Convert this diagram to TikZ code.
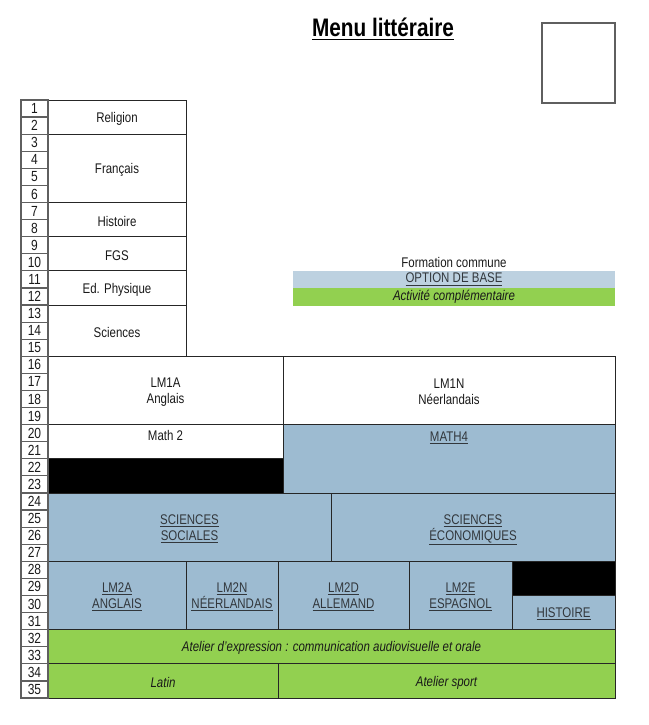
\documentclass[tikz,border=0pt]{standalone}
\usepackage{fontspec}
\setmainfont[FakeStretch=0.82]{Liberation Sans}
\usepackage{xcolor}
\usepackage{tikz}
\usetikzlibrary{positioning}

\definecolor{optblue}{RGB}{157,187,209}
\definecolor{legblue}{RGB}{189,209,224}
\definecolor{actgreen}{RGB}{146,208,80}
\definecolor{rulegray}{RGB}{95,95,95}
\definecolor{txtgray}{RGB}{25,25,25}
\definecolor{opttxt}{RGB}{50,55,60}

\tikzset{
  numcell/.style={draw=rulegray, line width=0.9pt, minimum width=20.25pt, minimum height=12.81pt, inner sep=0pt, text=txtgray, font=\fontsize{11}{12}\selectfont},
  cell/.style={draw=black!85, line width=0.6pt},
  txt/.style={inner sep=0.75pt, align=center, yshift=-1.1pt, text=txtgray, font=\fontsize{10.5}{12}\selectfont},
  opt/.style={txt, text=opttxt},
  act/.style={txt, font=\fontsize{10.5}{12}\selectfont\itshape},
  legbox/.style={inner sep=0pt, minimum width=241.5pt, minimum height=12.81pt, font=\fontsize{10.5}{12}\selectfont},
}

\begin{document}
\begin{tikzpicture}[x=0.75pt,y=0.75pt,yscale=-1,xscale=1]
\useasboundingbox (0,0) rectangle (649,725);

% Title and photo box
\node[text=black, font=\fontsize{19}{22}\selectfont\bfseries] (titre) at (383,29) {\underline{Menu littéraire}};
\node[draw=rulegray, line width=0.9pt, minimum width=54.75pt, minimum height=60pt] (photo) at (578.5,63) {};

% Legend
\node[legbox, fill=legblue, text=opttxt] (optbase) at (454,279.4) {\underline{OPTION DE BASE}};
\node[legbox, fill=actgreen, text=txtgray, font=\fontsize{10.5}{12}\selectfont\itshape, below=0pt of optbase] (activite) {Activité complémentaire};
\node[txt, yshift=1.1pt, above=1pt of optbase] (formation) {Formation commune};

% Formation commune
\draw[cell] (48,100) rectangle (186,134.17);
\node[txt] (religion) at (117,117.09) {Religion};
\draw[cell] (48,134.17) rectangle (186,202.51);
\node[txt] (francais) at (117,168.34) {Français};
\draw[cell] (48,202.51) rectangle (186,236.69);
\node[txt] (histoire) at (117,219.6) {Histoire};
\draw[cell] (48,236.69) rectangle (186,270.86);
\node[txt] (fgs) at (117,253.77) {FGS};
\draw[cell] (48,270.86) rectangle (186,305.03);
\node[txt] (edphys) at (117,287.94) {Ed. Physique};
\draw[cell] (48,305.03) rectangle (186,356.29);
\node[txt] (sciences) at (117,330.66) {Sciences};

% Langues modernes 1
\draw[cell] (48,356.29) rectangle (283,424.63);
\node[txt] (lmia) at (165.5,390.46) {LM1A\\Anglais};
\draw[cell] (283,356.29) rectangle (615,424.63);
\node[txt] (lmin) at (449,390.46) {LM1N\\Néerlandais};

% Math
\draw[cell] (48,424.63) rectangle (283,458.8);
\node[txt] (mathii) at (165.5,433.6) {Math 2};
\draw[cell, fill=black] (48,458.8) rectangle (283,492.97);
\draw[cell, fill=optblue] (283,424.63) rectangle (615,492.97);
\node[opt] (mathiv) at (449,436.5) {\underline{MATH4}};

% Sciences
\draw[cell, fill=optblue] (48,492.97) rectangle (331,561.31);
\node[opt] (scsoc) at (189.5,527.14) {\underline{SCIENCES}\\\underline{SOCIALES}};
\draw[cell, fill=optblue] (331,492.97) rectangle (615,561.31);
\node[opt] (sceco) at (473,528.5) {\underline{SCIENCES}\\\underline{ÉCONOMIQUES}};

% Langues modernes 2
\draw[cell, fill=optblue] (48,561.31) rectangle (186,629.66);
\node[opt] (lmiia) at (117,595.49) {\underline{LM2A}\\\underline{ANGLAIS}};
\draw[cell, fill=optblue] (186,561.31) rectangle (278,629.66);
\node[opt] (lmiin) at (232,595.49) {\underline{LM2N}\\\underline{NÉERLANDAIS}};
\draw[cell, fill=optblue] (278,561.31) rectangle (409,629.66);
\node[opt] (lmiid) at (343.5,595.49) {\underline{LM2D}\\\underline{ALLEMAND}};
\draw[cell, fill=optblue] (409,561.31) rectangle (512,629.66);
\node[opt] (lmiie) at (460.5,595.49) {\underline{LM2E}\\\underline{ESPAGNOL}};
\draw[cell, fill=black] (512,561.31) rectangle (615,595.49);
\draw[cell, fill=optblue] (512,595.49) rectangle (615,629.66);
\node[opt] (histopt) at (563.5,612.57) {\underline{HISTOIRE}};

% Activites complementaires
\draw[cell, fill=actgreen] (48,629.66) rectangle (615,663.83);
\node[act] (atelier) at (331.5,646.74) {Atelier d'expression : communication audiovisuelle et orale};
\draw[cell, fill=actgreen] (48,663.83) rectangle (278,698);
\node[act] (latin) at (163,680.91) {Latin};
\draw[cell, fill=actgreen] (278,663.83) rectangle (615,698);
\node[act] (sport) at (446.5,680.91) {Atelier sport};

% Period numbers
\node[numcell] (p1) at (34.5,108.54) {1};
\node[numcell] (p2) at (34.5,125.63) {2};
\node[numcell] (p3) at (34.5,142.71) {3};
\node[numcell] (p4) at (34.5,159.8) {4};
\node[numcell] (p5) at (34.5,176.89) {5};
\node[numcell] (p6) at (34.5,193.97) {6};
\node[numcell] (p7) at (34.5,211.06) {7};
\node[numcell] (p8) at (34.5,228.14) {8};
\node[numcell] (p9) at (34.5,245.23) {9};
\node[numcell] (p10) at (34.5,262.31) {10};
\node[numcell] (p11) at (34.5,279.4) {11};
\node[numcell] (p12) at (34.5,296.49) {12};
\node[numcell] (p13) at (34.5,313.57) {13};
\node[numcell] (p14) at (34.5,330.66) {14};
\node[numcell] (p15) at (34.5,347.74) {15};
\node[numcell] (p16) at (34.5,364.83) {16};
\node[numcell] (p17) at (34.5,381.91) {17};
\node[numcell] (p18) at (34.5,399) {18};
\node[numcell] (p19) at (34.5,416.09) {19};
\node[numcell] (p20) at (34.5,433.17) {20};
\node[numcell] (p21) at (34.5,450.26) {21};
\node[numcell] (p22) at (34.5,467.34) {22};
\node[numcell] (p23) at (34.5,484.43) {23};
\node[numcell] (p24) at (34.5,501.51) {24};
\node[numcell] (p25) at (34.5,518.6) {25};
\node[numcell] (p26) at (34.5,535.69) {26};
\node[numcell] (p27) at (34.5,552.77) {27};
\node[numcell] (p28) at (34.5,569.86) {28};
\node[numcell] (p29) at (34.5,586.94) {29};
\node[numcell] (p30) at (34.5,604.03) {30};
\node[numcell] (p31) at (34.5,621.11) {31};
\node[numcell] (p32) at (34.5,638.2) {32};
\node[numcell] (p33) at (34.5,655.29) {33};
\node[numcell] (p34) at (34.5,672.37) {34};
\node[numcell] (p35) at (34.5,689.46) {35};

\end{tikzpicture}
\end{document}
